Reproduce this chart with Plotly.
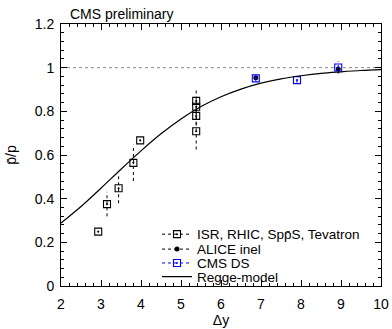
import plotly.graph_objects as go

# ---- data ----
isr_x = [2.93, 3.15, 3.44, 3.81, 3.98, 5.38, 5.38, 5.38, 5.38]
isr_y = [0.249, 0.375, 0.448, 0.564, 0.667, 0.848, 0.821, 0.779, 0.709]
isr_err = [0.0, 0.056, 0.069, 0.083, 0.0, 0.049, 0.04, 0.04, 0.084]

alice_x = [6.87, 8.93]
alice_y = [0.954, 0.994]
alice_err = [0.01, 0.01]

cms_x = [6.87, 7.90, 8.93]
cms_y = [0.951, 0.943, 1.001]
cms_err = [0.012, 0.012, 0.029]

regge_x = [2, 2.5, 3, 3.5, 4, 4.5, 5, 5.5, 6, 6.5, 7, 7.5, 8, 8.5, 9, 9.5, 10]
regge_y = [0.288, 0.364, 0.448, 0.535, 0.619, 0.697, 0.765, 0.822, 0.867,
           0.902, 0.929, 0.949, 0.963, 0.974, 0.981, 0.987, 0.991]

x_ticks = [2, 3, 4, 5, 6, 7, 8, 9, 10]
y_ticks = [0, 0.2, 0.4, 0.6, 0.8, 1, 1.2]
y_tick_text = ["0", "0.2", "0.4", "0.6", "0.8", "1", "1.2"]

FONT = "Liberation Sans, Arial, Helvetica, sans-serif"
FS = 14
LFS = 13.5
BLUE = "#0000ff"


def gapped(xs, ys):
    gx, gy = [], []
    for a, b in zip(xs, ys):
        gx += [a, None]
        gy += [b, None]
    return gx, gy


def err_lines(xs, ys, es):
    ex, ey = [], []
    for a, b, e in zip(xs, ys, es):
        if e > 0:
            ex += [a, a, None]
            ey += [b - e, b + e, None]
    return ex, ey


fig = go.Figure()

# error bars (dotted)
for xs, ys, es, col in [(isr_x, isr_y, isr_err, "black"),
                        (alice_x, alice_y, alice_err, "black"),
                        (cms_x, cms_y, cms_err, BLUE)]:
    ex, ey = err_lines(xs, ys, es)
    fig.add_trace(go.Scatter(x=ex, y=ey, mode="lines", showlegend=False,
                             line=dict(color=col, width=1, dash="dot"),
                             hoverinfo="skip"))

gx, gy = gapped(isr_x, isr_y)
fig.add_trace(go.Scatter(
    x=gx, y=gy, mode="lines+markers", name="ISR, RHIC, Spp\u0304S, Tevatron",
    legend="legend",
    line=dict(color="black", width=1, dash="dot"),
    marker=dict(symbol="square-open-dot", size=7, color="black",
                line=dict(width=1.1, color="black"))))

gx, gy = gapped(alice_x, alice_y)
fig.add_trace(go.Scatter(
    x=gx, y=gy, mode="lines+markers", name="ALICE inel",
    legend="legend2",
    line=dict(color="black", width=1, dash="dot"),
    marker=dict(symbol="circle", size=5, color="black")))

gx, gy = gapped(cms_x, cms_y)
fig.add_trace(go.Scatter(
    x=gx, y=gy, mode="lines+markers", name="CMS DS",
    legend="legend3",
    line=dict(color=BLUE, width=1, dash="dot"),
    marker=dict(symbol="square-open-dot", size=7, color=BLUE,
                line=dict(width=1.1, color=BLUE))))

fig.add_trace(go.Scatter(
    x=regge_x, y=regge_y, mode="lines", name="Regge-model",
    legend="legend4",
    line=dict(color="black", width=1.2, shape="spline")))

fig.add_shape(type="line", xref="paper", x0=0, x1=1, yref="y", y0=1, y1=1,
              line=dict(color="#888888", width=1, dash="dot"), layer="below")

fig.add_annotation(text="CMS preliminary", xref="paper", yref="paper",
                   x=0.022, y=1, xanchor="left", yanchor="bottom",
                   showarrow=False, font=dict(size=FS, color="black", family=FONT))

axis_common = dict(showline=True, linecolor="black", linewidth=1, mirror="ticks",
                   ticks="inside", ticklen=6, tickcolor="black", showgrid=False,
                   zeroline=False, automargin=False,
                   tickfont=dict(size=FS, color="black", family=FONT))

fig.update_xaxes(range=[2, 10], tickvals=x_ticks, ticklabelstandoff=5,
                 minor=dict(dtick=0.2, ticks="inside", ticklen=3, tickcolor="black"),
                 title=dict(text="\u0394y", standoff=4,
                            font=dict(size=FS, color="black", family=FONT)),
                 **axis_common)
fig.update_yaxes(range=[0, 1.2], tickvals=y_ticks, ticktext=y_tick_text,
                 ticklabelstandoff=3,
                 minor=dict(dtick=0.04, ticks="inside", ticklen=3, tickcolor="black"),
                 title=dict(text="p\u0304/p", standoff=14,
                            font=dict(size=FS, color="black", family=FONT)),
                 **axis_common)


def leg(yc):
    return dict(x=0.30, y=yc, xanchor="left", yanchor="middle",
                bgcolor="rgba(0,0,0,0)", borderwidth=0,
                font=dict(size=LFS, color="black", family=FONT),
                itemwidth=30)


fig.update_layout(
    width=392, height=329,
    margin=dict(l=61, r=11, t=24, b=43),
    paper_bgcolor="white", plot_bgcolor="white",
    font=dict(family=FONT, size=FS, color="black"),
    legend=leg(0.197),
    legend2=leg(0.140),
    legend3=leg(0.087),
    legend4=leg(0.035),
)

fig.write_html("out.html")
